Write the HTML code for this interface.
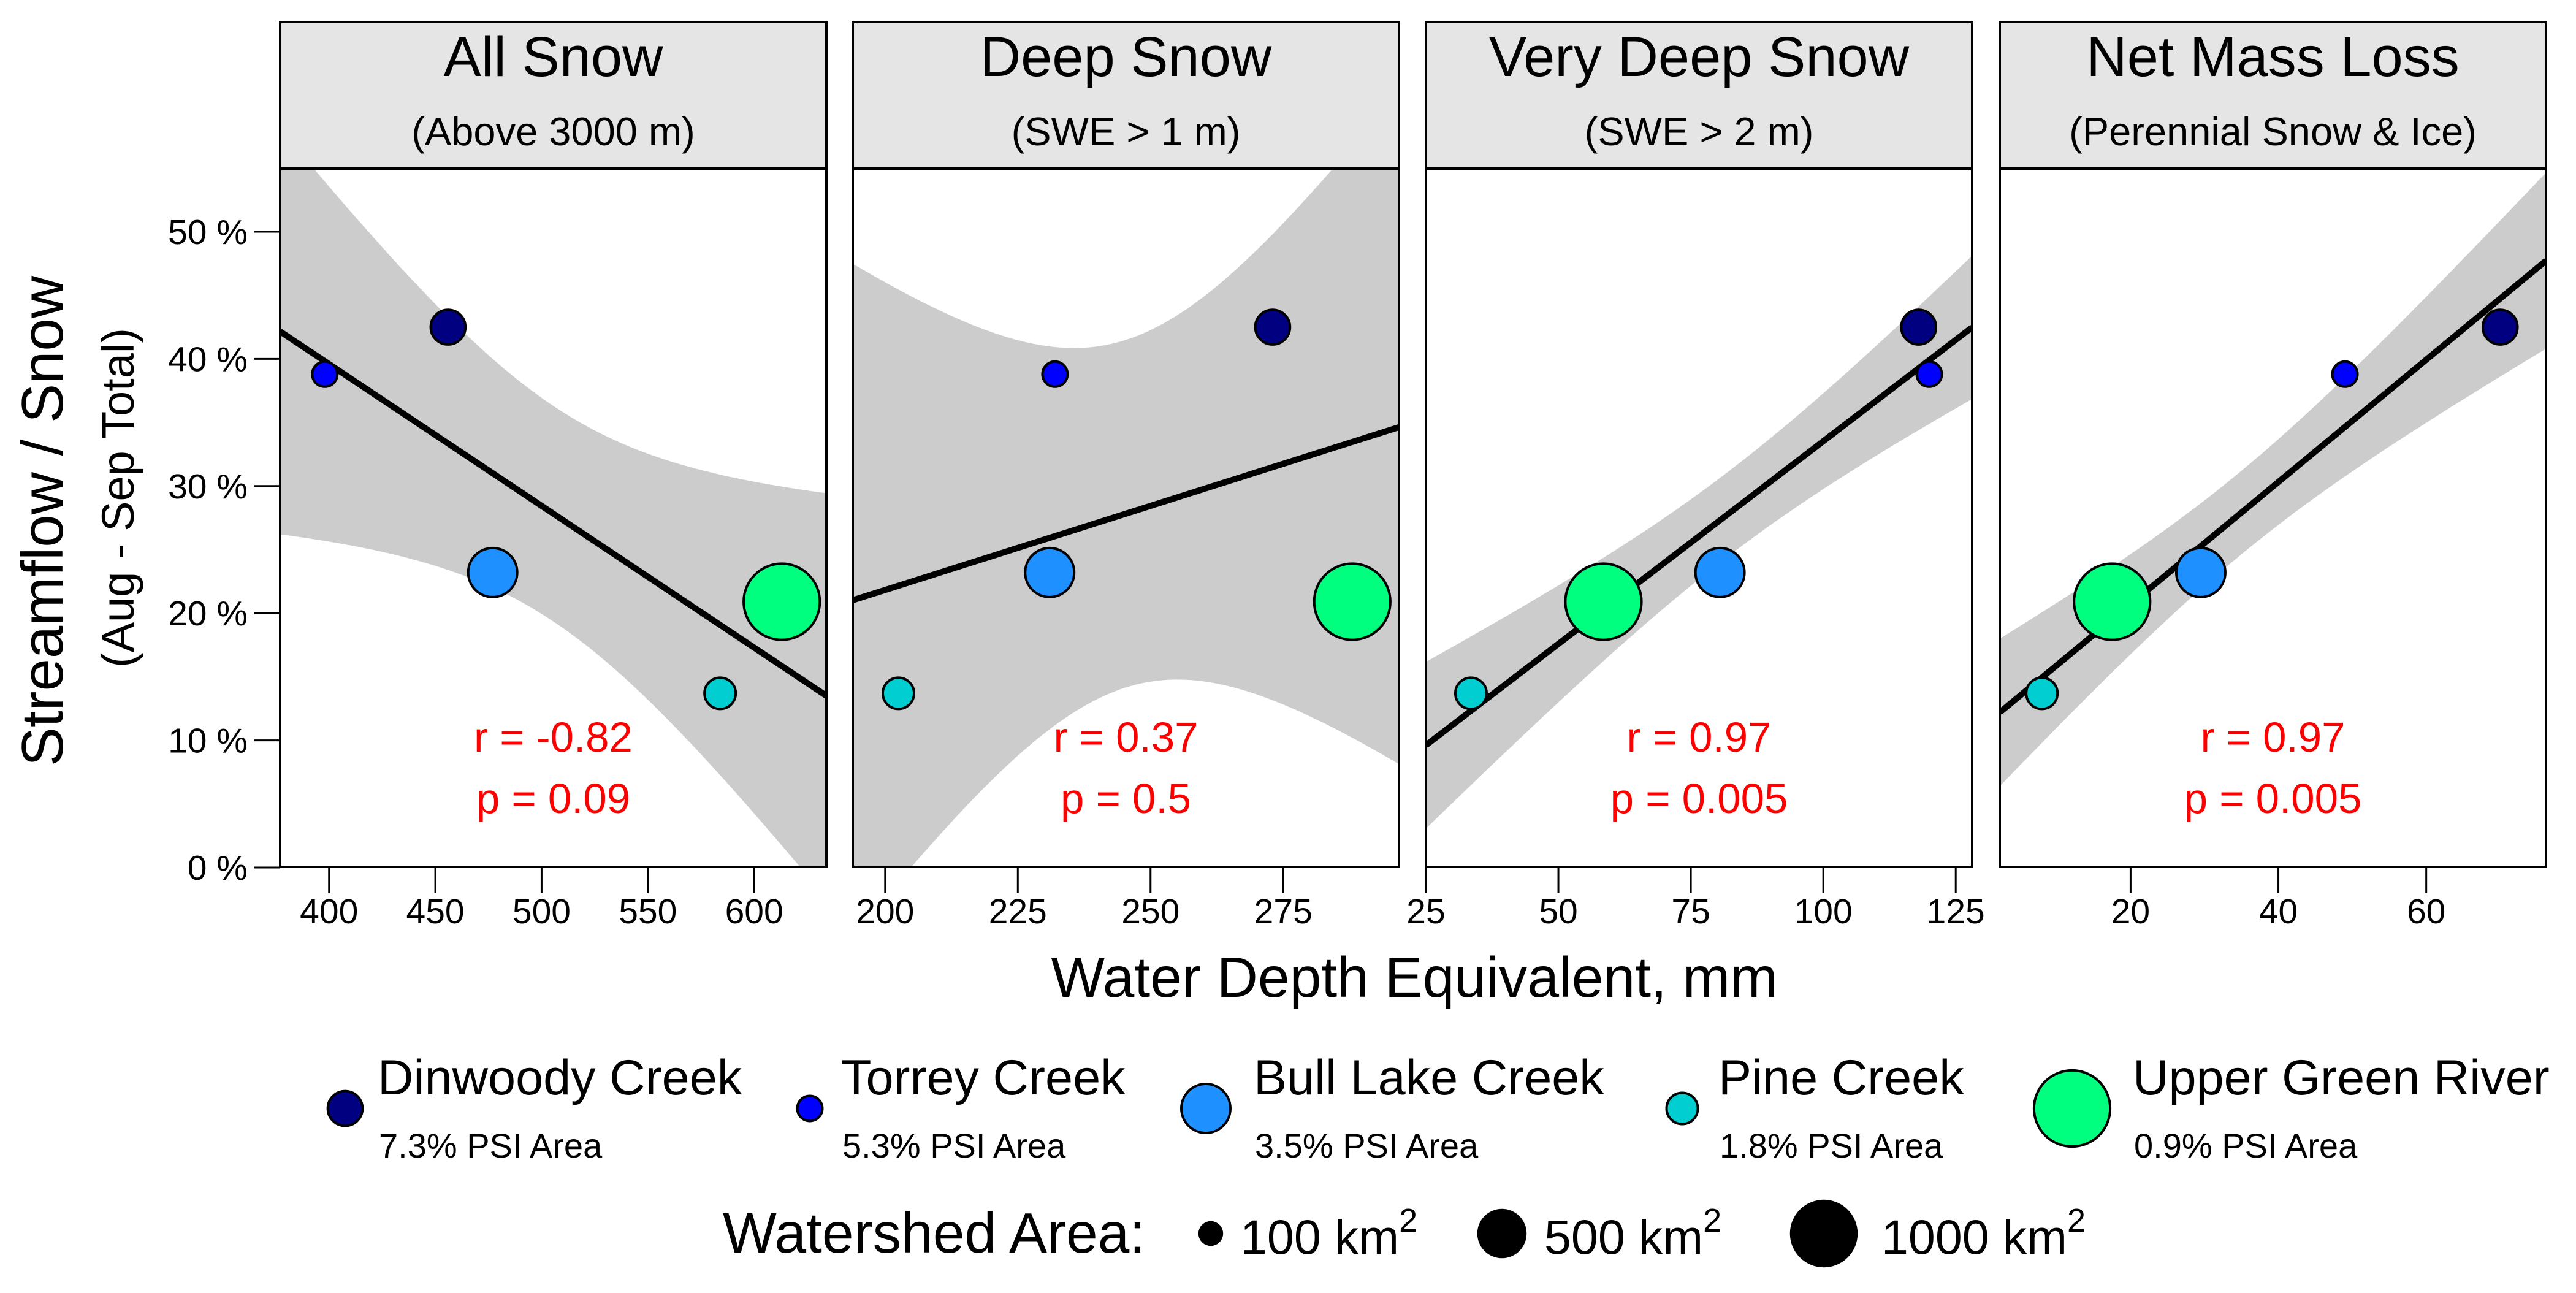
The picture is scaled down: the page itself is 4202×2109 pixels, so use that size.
<!DOCTYPE html>
<html><head><meta charset="utf-8"><style>
html,body{margin:0;padding:0;background:#fff}
svg{display:block;font-family:"Liberation Sans",sans-serif}
</style></head><body>
<svg id="chart" width="4202" height="2109" viewBox="0 0 4202 2109" xmlns="http://www.w3.org/2000/svg"></svg>
<script>
// ---- data ----
const sites = ["Dinwoody Creek","Torrey Creek","Bull Lake Creek","Pine Creek","Upper Green River"];
const psiArea = ["7.3% PSI Area","5.3% PSI Area","3.5% PSI Area","1.8% PSI Area","0.9% PSI Area"];
const siteColors = ["#000080","#0000ff","#1e90ff","#00ced1","#00ff7f"];
const watershedArea = [190, 80, 440, 145, 1200];
const ratioPct = [42.5, 38.8, 23.2, 13.7, 20.9];
const panelTitles = ["All Snow","Deep Snow","Very Deep Snow","Net Mass Loss"];
const panelSubtitles = ["(Above 3000 m)","(SWE > 1 m)","(SWE > 2 m)","(Perennial Snow & Ice)"];
const xAllSnow = [456, 398, 477, 584, 613];
const xDeepSnow = [273, 232, 231, 202.5, 288];
const xVeryDeep = [118, 120, 80.5, 33.5, 58.5];
const xNetLoss = [70, 49, 29.5, 8, 17.5];
const rLabels = ["r = -0.82","r = 0.37","r = 0.97","r = 0.97"];
const pLabels = ["p = 0.09","p = 0.5","p = 0.005","p = 0.005"];
const xTicks1 = [400,450,500,550,600];
const xTicks2 = [200,225,250,275];
const xTicks3 = [25,50,75,100,125];
const xTicks4 = [20,40,60];
const xDomains = [[377,634],[193.9,296.8],[25,128.1],[2.3,76.2]];
const yTicks = [0,10,20,30,40,50];
const legendAreas = [100,500,1000];

const xs = [xAllSnow,xDeepSnow,xVeryDeep,xNetLoss];
const xTickSets = [xTicks1,xTicks2,xTicks3,xTicks4];

const NS = "http://www.w3.org/2000/svg";
const svg = document.getElementById("chart");
function mk(tag, attrs, parent){
  const e = document.createElementNS(NS, tag);
  for (const k in attrs) e.setAttribute(k, attrs[k]);
  (parent||svg).appendChild(e);
  return e;
}
const panelLeft = [457,1391,2326,3262];
const panelW = 891;
const stripTop = 36, plotTop = 275, plotBottom = 1414;
const yScale = v => 1415 - (v/10)*207.4;
const radiusOf = a => 6 + 1.62*Math.sqrt(a);
const bandMult = 2.32;

const defs = mk("defs",{});
for (let p=0;p<4;p++){
  const cp = mk("clipPath",{id:"clip"+p},defs);
  mk("rect",{x:panelLeft[p],y:plotTop,width:panelW,height:plotBottom-plotTop},cp);
}

// y axis
const yAxis = mk("g",{});


yTicks.forEach(v=>{
  const y = yScale(v);
  mk("line",{x1:415,x2:457,y1:y,y2:y,stroke:"#000","stroke-width":3},yAxis);
  const t = mk("text",{x:404,y:y+20,"text-anchor":"end","font-size":57},yAxis);
  t.textContent = v+" %";
  
  
});
let yt = mk("text",{x:0,y:0,"text-anchor":"middle","font-size":96,transform:"translate(102,850) rotate(-90)"});
yt.textContent = "Streamflow / Snow";


yt = mk("text",{x:0,y:0,"text-anchor":"middle","font-size":74,transform:"translate(218,812) rotate(-90)"});
yt.textContent = "(Aug - Sep Total)";



for (let p=0;p<4;p++){
  const L = panelLeft[p], R = L+panelW;
  const [d0,d1] = xDomains[p];
  const xScale = v => L + (v-d0)/(d1-d0)*panelW;
  const g = mk("g",{});
  
  
  const strip = mk("rect",{x:L,y:stripTop,width:panelW,height:plotTop-stripTop,fill:"#e5e5e5",stroke:"#000","stroke-width":4},g);
  
  
  let t = mk("text",{x:L+panelW/2,y:124,"text-anchor":"middle","font-size":92},g);
  t.textContent = panelTitles[p];
  
  
  t = mk("text",{x:L+panelW/2,y:237,"text-anchor":"middle","font-size":65},g);
  t.textContent = panelSubtitles[p];
  
  
  mk("rect",{x:L,y:plotTop,width:panelW,height:plotBottom-plotTop,fill:"#fff"},g);

  const x = xs[p], y = ratioPct, n = x.length;
  const mx = x.reduce((a,b)=>a+b)/n, my = y.reduce((a,b)=>a+b)/n;
  let sxx=0, sxy=0;
  for (let i=0;i<n;i++){ sxx+=(x[i]-mx)**2; sxy+=(x[i]-mx)*(y[i]-my); }
  const b = sxy/sxx, a = my-b*mx;
  let sse=0; for (let i=0;i<n;i++) sse+=(y[i]-a-b*x[i])**2;
  const s = Math.sqrt(sse/(n-2));
  const clipG = mk("g",{"clip-path":"url(#clip"+p+")"},g);
  let up=[], lo=[];
  for (let k=0;k<=100;k++){
    const xv = d0+(d1-d0)*k/100;
    const fit = a+b*xv;
    const se = s*Math.sqrt(1/n+(xv-mx)**2/sxx);
    up.push(xScale(xv).toFixed(1)+","+yScale(fit+bandMult*se).toFixed(1));
    lo.unshift(xScale(xv).toFixed(1)+","+yScale(fit-bandMult*se).toFixed(1));
  }
  const band = mk("polygon",{points:up.concat(lo).join(" "),fill:"#cccccc"},clipG);
  
  
  const line = mk("line",{x1:xScale(d0),y1:yScale(a+b*d0),x2:xScale(d1),y2:yScale(a+b*d1),stroke:"#000","stroke-width":10},clipG);
  
  
  for (let i=0;i<n;i++){
    const c = mk("circle",{cx:xScale(x[i]),cy:yScale(y[i]),r:radiusOf(watershedArea[i]),fill:siteColors[i],stroke:"#000","stroke-width":4},clipG);
    
    
  }
  t = mk("text",{x:L+panelW/2,y:1226,"text-anchor":"middle","font-size":69,fill:"#ff0000"},g);
  t.textContent = rLabels[p];
  
  
  t = mk("text",{x:L+panelW/2,y:1326,"text-anchor":"middle","font-size":69,fill:"#ff0000"},g);
  t.textContent = pLabels[p];
  
  
  mk("rect",{x:L,y:plotTop,width:panelW,height:plotBottom-plotTop,fill:"none",stroke:"#000","stroke-width":4},g);
  mk("line",{x1:L,x2:R,y1:plotTop,y2:plotTop,stroke:"#000","stroke-width":6},g);
  const xa = mk("g",{},g);
  
  
  xTickSets[p].forEach(v=>{
    const xp = xScale(v);
    mk("line",{x1:xp,x2:xp,y1:plotBottom,y2:1457,stroke:"#000","stroke-width":3},xa);
    const tt = mk("text",{x:xp,y:1506,"text-anchor":"middle","font-size":57},xa);
    tt.textContent = v;
    
    
  });
}

let xt = mk("text",{x:2307,y:1626,"text-anchor":"middle","font-size":93});
xt.textContent = "Water Depth Equivalent, mm";



const legCx = [563,1321,1967,2744,3380];
const legTx = [616,1372,2045,2803,3479];
const legend = mk("g",{});


for (let i=0;i<5;i++){
  const c = mk("circle",{cx:legCx[i],cy:1808,r:radiusOf(watershedArea[i]),fill:siteColors[i],stroke:"#000","stroke-width":4},legend);
  
  
  let t = mk("text",{x:legTx[i],y:1785,"font-size":81},legend);
  t.textContent = sites[i];
  
  
  t = mk("text",{x:legTx[i]+2,y:1888,"font-size":56},legend);
  t.textContent = psiArea[i];
  
  
}

const sizeLeg = mk("g",{});


let st = mk("text",{x:1179,y:2043,"font-size":93},sizeLeg);
st.textContent = "Watershed Area:";


const sizeCx = [1975,2450,2975];
const sizeTx = [2023,2519,3069];
legendAreas.forEach((a,i)=>{
  const c = mk("circle",{cx:sizeCx[i],cy:2012,r:radiusOf(a)-2,fill:"#000"},sizeLeg);
  
  
  const t = mk("text",{x:sizeTx[i],y:2045,"font-size":79},sizeLeg);
  t.innerHTML = a+" km<tspan dy='-36' font-size='54'>2</tspan>";
  
  
});
</script>
</body></html>
